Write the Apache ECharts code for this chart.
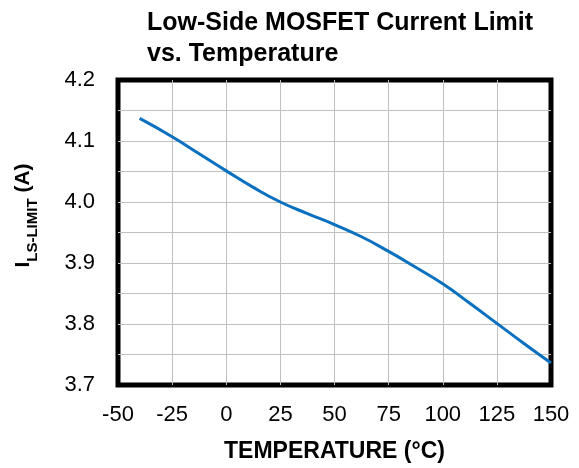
<!DOCTYPE html>
<html><head><meta charset="utf-8">
<script src="https://cdn.jsdelivr.net/npm/echarts@6/dist/echarts.min.js"></script>
<style>html,body{margin:0;padding:0;background:#fff}#c{width:579px;height:468px}</style>
</head><body><div id="c"></div>
<script>
var temperatures = [-40, -25, -12.5, 0, 12.5, 25, 37.5, 50, 62.5, 75, 87.5, 100, 112.5, 125, 137.5, 150];
var currentLimit = [4.137, 4.107, 4.079, 4.051, 4.024, 4.000, 3.981, 3.963, 3.943, 3.919, 3.893, 3.866, 3.834, 3.801, 3.768, 3.736];
var xTicks = [-50, -25, 0, 25, 50, 75, 100, 125, 150];
var yTicks = [3.7, 3.8, 3.9, 4.0, 4.1, 4.2];
var titleLines = ['Low-Side MOSFET Current Limit', 'vs. Temperature'];

var FONT = 'Liberation Sans, Arial, sans-serif';
var chart = echarts.init(document.getElementById('c'), null, {renderer: 'canvas'});
chart.setOption({
  animation: false,
  backgroundColor: '#fff',
  title: {
    text: titleLines.join('\n'),
    left: 147, top: 8, padding: 0,
    textStyle: {fontFamily: FONT, fontWeight: 'bold', fontSize: 25, color: '#000', lineHeight: 31}
  },
  grid: {left: 118, right: 28, top: 80, bottom: 81, show: true, borderColor: '#000', borderWidth: 5, backgroundColor: 'transparent'},
  xAxis: {
    type: 'value', min: xTicks[0], max: xTicks[xTicks.length - 1], interval: 25,
    axisLine: {show: false}, axisTick: {show: false},
    axisLabel: {fontFamily: FONT, fontSize: 22, color: '#000', margin: 19,
      formatter: function (v) { return xTicks.indexOf(v) >= 0 ? String(v) : ''; }},
    splitLine: {show: true, showMinLine: false, showMaxLine: false, lineStyle: {color: '#c0c0c0', width: 1}},
    name: 'TEMPERATURE (°C)', nameLocation: 'middle', nameGap: 55,
    nameTextStyle: {fontFamily: FONT, fontWeight: 'bold', fontSize: 23, color: '#000'}
  },
  yAxis: {
    type: 'value', min: yTicks[0], max: yTicks[yTicks.length - 1], interval: 0.1,
    axisLine: {show: false}, axisTick: {show: false},
    axisLabel: {fontFamily: FONT, fontSize: 22, color: '#000', margin: 23,
      formatter: function (v) { return v.toFixed(1); }},
    splitLine: {show: true, showMinLine: false, showMaxLine: false, lineStyle: {color: '#c0c0c0', width: 1}},
    minorTick: {show: false, splitNumber: 2},
    minorSplitLine: {show: true, lineStyle: {color: '#c0c0c0', width: 1}},
    name: '{a|I}{b|LS-LIMIT}{a| (A)}', nameLocation: 'middle', nameGap: 84, nameRotate: 90,
    nameTextStyle: {
      padding: [0, 0, 0, 34],
      rich: {
        a: {fontFamily: FONT, fontWeight: 'bold', fontSize: 21, color: '#000', verticalAlign: 'bottom', lineHeight: 24},
        b: {fontFamily: FONT, fontWeight: 'bold', fontSize: 15, color: '#000', verticalAlign: 'bottom', lineHeight: 24, padding: [0, 0, -6, 0]}
      }
    }
  },
  series: [{
    type: 'line', smooth: true, symbol: 'none',
    data: temperatures.map(function (t, i) { return [t, currentLimit[i]]; }),
    lineStyle: {color: '#0a70c0', width: 3}
  }]
});
</script></body></html>
